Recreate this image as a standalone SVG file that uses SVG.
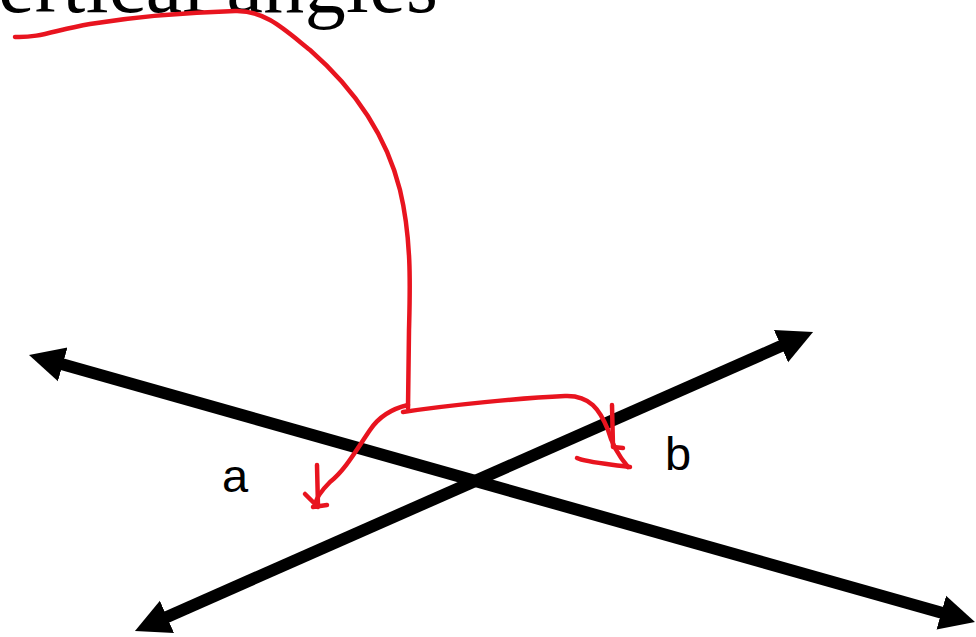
<svg xmlns="http://www.w3.org/2000/svg" width="976" height="637" viewBox="0 0 976 637">
<style>
.title{font-family:"Liberation Serif","Times New Roman",serif;font-size:82px;fill:#000}
.lbl{font-family:"Liberation Sans",Arial,sans-serif;font-size:47px;fill:#000}
.axis{stroke:#000;stroke-width:12;fill:none}
.ink{stroke:#E8141F;stroke-width:4.5;fill:none;stroke-linecap:round;stroke-linejoin:round}
</style>
<defs>
<marker id="ah" markerUnits="userSpaceOnUse" markerWidth="40" markerHeight="40" viewBox="0 -20 40 40" refX="5" refY="0" orient="auto-start-reverse">
<path d="M0,-17.5 L35,0 L0,17.5 z" fill="#000"/>
</marker>
</defs>
<rect width="976" height="637" fill="#fff"/>
<text class="title" x="-2" y="12" textLength="440" lengthAdjust="spacing">ertical angles</text>
<g id="connectors">
<line class="axis" x1="57.9" y1="363.1" x2="946.1" y2="613.9" marker-start="url(#ah)" marker-end="url(#ah)"/>
<line class="axis" x1="162.4" y1="618.9" x2="785.6" y2="344.1" marker-start="url(#ah)" marker-end="url(#ah)"/>
<path class="ink" d="M15,37 C40,38 55,30 90,24 C140,16 200,12 235,11 C265,10 285,30 310,50 C350,85 385,130 400,190 C412,240 410,290 409,330 L408,408"/>
<path class="ink" d="M408,405 C395,408 380,415 370,430 C355,452 345,470 330,482 C320,492 316,498 315,505"/>
<path class="ink" d="M317,465 L318,507 M305,494 L314,503 M313,507 L327,505"/>
<path class="ink" d="M403,412 C450,405 520,398 565,396 C590,395 600,410 608,430 C612,445 618,455 628,467"/>
<path class="ink" d="M612,405 L613,447 L623,448 M577,458 C585,462 600,463 630,467"/>
</g>
<g id="label-a"><text class="lbl" x="222" y="492">a</text></g>
<g id="label-b"><text class="lbl" x="665" y="470">b</text></g>
</svg>
